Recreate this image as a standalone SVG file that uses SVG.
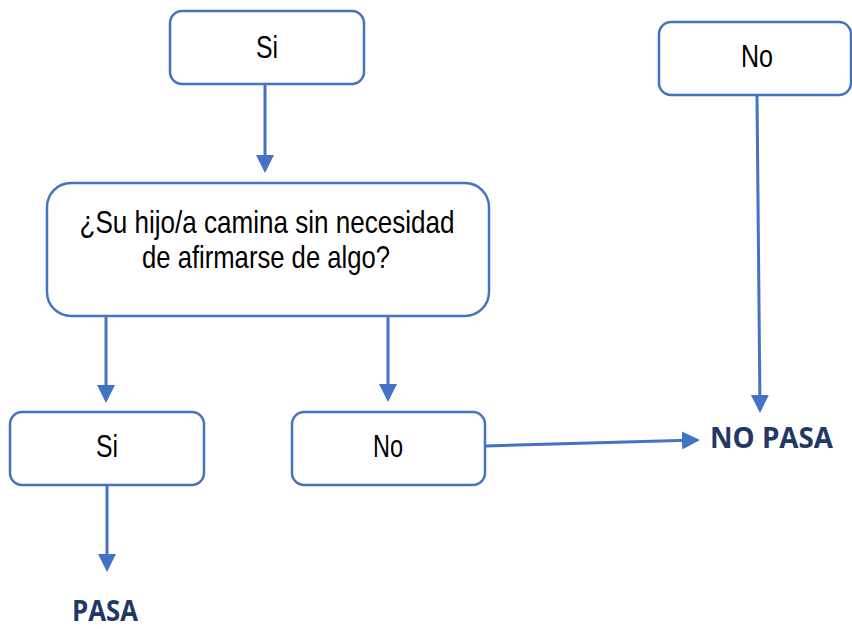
<svg xmlns="http://www.w3.org/2000/svg" width="852" height="629" viewBox="0 0 852 629">
<style>
.box{fill:#fff;stroke:#4472C4;stroke-width:2.5}
.t{font-family:"Liberation Sans",Arial,sans-serif;font-size:32px;fill:#000;text-anchor:middle}
.r{font-family:"Open Sans","Liberation Sans",sans-serif;font-weight:bold;font-size:28px;fill:#1F3864}
.c{fill:none;stroke:#4472C4;stroke-width:3}
</style>
<defs>
<marker id="ah" markerWidth="6" markerHeight="6" refX="5" refY="3" orient="auto" markerUnits="strokeWidth">
<path d="M0,0 L6,3 L0,6 Z" fill="#4472C4"/>
</marker>
</defs>
<rect width="852" height="629" fill="#fff"/>
<g id="connectors">
<line class="c" x1="265" y1="84" x2="265" y2="170" marker-end="url(#ah)"/>
<line class="c" x1="106" y1="316" x2="106" y2="400" marker-end="url(#ah)"/>
<line class="c" x1="388" y1="316" x2="388" y2="399" marker-end="url(#ah)"/>
<line class="c" x1="107" y1="485" x2="107" y2="569" marker-end="url(#ah)"/>
<line class="c" x1="757" y1="95" x2="760" y2="410" marker-end="url(#ah)"/>
<line class="c" x1="485" y1="446" x2="697" y2="440" marker-end="url(#ah)"/>
</g>
<g id="n-si-top">
<rect class="box" x="170" y="11" width="194" height="73" rx="12"/>
<text class="t" x="267" y="58" textLength="22" lengthAdjust="spacingAndGlyphs">Si</text>
</g>
<g id="n-no-top">
<rect class="box" x="659" y="22" width="192" height="73" rx="12"/>
<text class="t" x="757" y="67" textLength="32" lengthAdjust="spacingAndGlyphs">No</text>
</g>
<g id="n-question">
<rect class="box" x="47" y="183" width="442" height="133" rx="24"/>
<text class="t" x="267" y="233" textLength="375" lengthAdjust="spacingAndGlyphs">¿Su hijo/a camina sin necesidad</text>
<text class="t" x="266" y="268" textLength="248" lengthAdjust="spacingAndGlyphs">de afirmarse de algo?</text>
</g>
<g id="n-si">
<rect class="box" x="10" y="412" width="194" height="73" rx="12"/>
<text class="t" x="107" y="457" textLength="22" lengthAdjust="spacingAndGlyphs">Si</text>
</g>
<g id="n-no">
<rect class="box" x="292" y="412" width="193" height="73" rx="12"/>
<text class="t" x="388" y="457" textLength="30" lengthAdjust="spacingAndGlyphs">No</text>
</g>
<g id="n-nopasa">
<text class="r" x="710" y="448" textLength="123" lengthAdjust="spacingAndGlyphs">NO PASA</text>
</g>
<g id="n-pasa">
<text class="r" x="72" y="621" textLength="66" lengthAdjust="spacingAndGlyphs">PASA</text>
</g>
</svg>
